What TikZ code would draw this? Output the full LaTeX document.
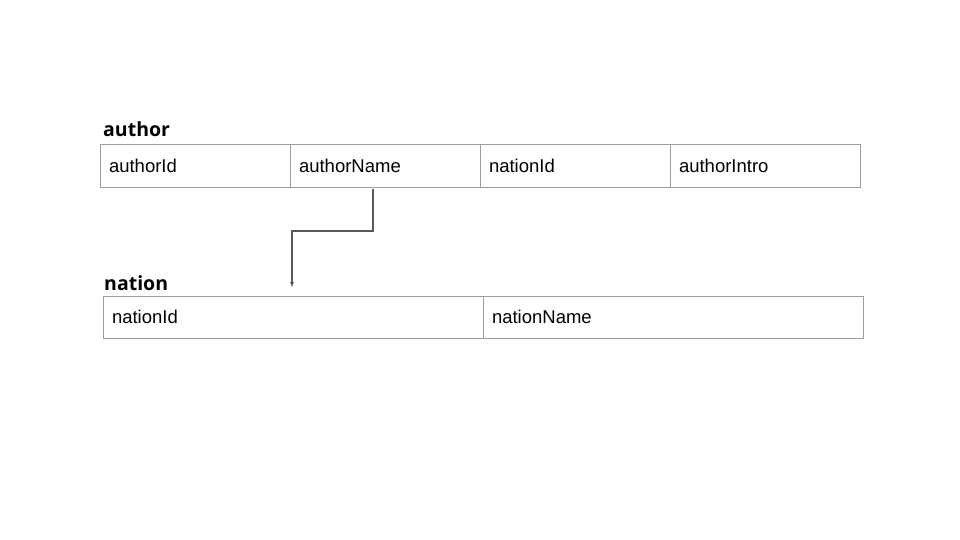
\documentclass[tikz,border=0pt]{standalone}
\usepackage{fontspec}
\setmainfont{Liberation Sans}
\newfontfamily\titlefont{Open Sans}
\usetikzlibrary{arrows.meta,positioning}

\definecolor{cellgray}{HTML}{9E9E9E}
\definecolor{linegray}{HTML}{595959}

\tikzset{
  cell/.style={draw=cellgray, line width=1pt, rectangle, anchor=north west,
    minimum height=42pt, inner xsep=9pt, inner ysep=0pt, outer sep=0pt,
    align=left, text height=13pt, text depth=1pt,
    font=\fontsize{18.5}{20}\selectfont},
  wide/.style={cell, text width=362pt},
  narrow/.style={cell, text width=172pt},
  tabletitle/.style={anchor=south west, inner sep=0pt,
    font=\titlefont\bfseries\fontsize{19.5}{22}\selectfont},
  fkline/.style={draw=linegray, line width=1.3pt, -{Latex[length=6pt,width=4pt]}}
}

\begin{document}
\begin{tikzpicture}[x=1pt,y=-1pt]
\useasboundingbox (0,0) rectangle (960,540);

% author table
\node (tauthor) [tabletitle] at (103,137) {author};
\node (a1) [narrow] at (100,145) {authorId};
\node (a2) [narrow, right=0pt of a1] {authorName};
\node (a3) [narrow, right=0pt of a2] {nationId};
\node (a4) [narrow, right=0pt of a3] {authorIntro};

% nation table
\node (tnation) [tabletitle] at (104,291) {nation};
\node (n1) [wide] at (103,296) {nationId};
\node (n2) [wide, right=0pt of n1] {nationName};

% link
\coordinate (fk) at (373,189);
\coordinate (fktip) at (292,288);
\draw[fkline] (fk) -- ++(0,42) -| (fktip);
\end{tikzpicture}
\end{document}
